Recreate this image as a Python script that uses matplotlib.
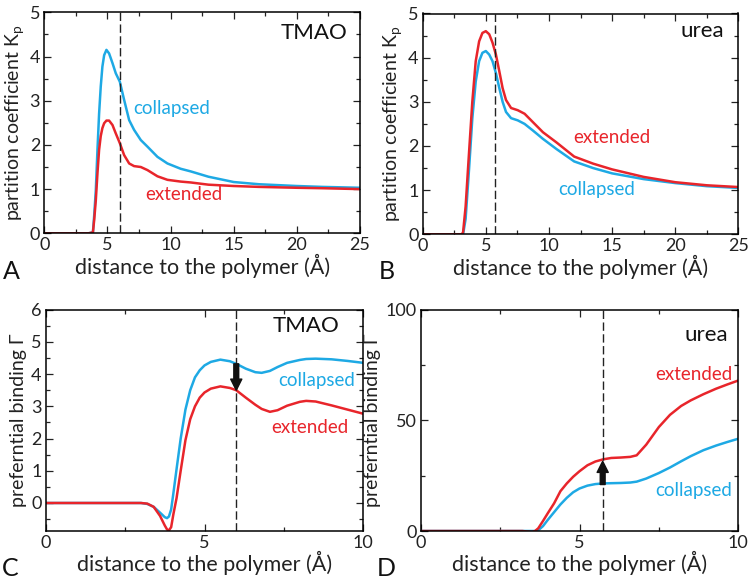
import matplotlib
matplotlib.use("Agg")
import matplotlib.pyplot as plt
from matplotlib.ticker import MultipleLocator

plt.rcParams['font.family'] = ['Lato', 'DejaVu Sans']

BLUE = '#1EA9E4'
RED = '#E8252B'

# ---- Panel A: partition coefficient, TMAO ----
A_x = [0, 3.5, 3.85, 3.95, 4.08, 4.21, 4.34, 4.47, 4.6, 4.74, 4.92, 5.13, 5.4, 5.66, 5.98,
       6.32, 6.72, 7.11, 7.64, 8.17, 8.96, 9.75, 10.8, 11.6, 13, 15, 17, 20, 22, 25]
A_collapsed = [0, 0, 0.02, 0.4, 0.98, 1.89, 2.71, 3.32, 3.77, 4.03, 4.15, 4.07, 3.85, 3.62, 3.43,
               3.02, 2.56, 2.34, 2.11, 1.96, 1.73, 1.58, 1.46, 1.40, 1.28, 1.16, 1.11, 1.07, 1.05, 1.03]
A_extended = [0, 0, 0.02, 0.3, 0.75, 1.36, 1.89, 2.2, 2.38, 2.49, 2.55, 2.55, 2.45, 2.26, 2.04,
              1.77, 1.58, 1.52, 1.5, 1.43, 1.29, 1.21, 1.17, 1.15, 1.1, 1.07, 1.05, 1.03, 1.02, 1.0]

# ---- Panel B: partition coefficient, urea ----
B_x = [0, 3.1, 3.2, 3.4, 3.67, 3.93, 4.2, 4.47, 4.73, 5.0, 5.27, 5.53, 5.8, 6.07, 6.33, 6.6,
       7.0, 7.53, 8.07, 8.73, 9.53, 10.6, 12, 13.5, 15, 17.5, 20, 22.5, 25]
B_extended = [0, 0, 0.05, 0.63, 1.85, 3.0, 3.92, 4.37, 4.56, 4.6, 4.53, 4.34, 4.07, 3.69, 3.31, 3.04,
              2.86, 2.81, 2.73, 2.54, 2.31, 2.08, 1.76, 1.6, 1.47, 1.3, 1.18, 1.11, 1.07]
B_collapsed = [0, 0, 0, 0.35, 1.47, 2.62, 3.46, 3.92, 4.11, 4.15, 4.07, 3.92, 3.65, 3.31, 3.0, 2.77,
               2.63, 2.58, 2.5, 2.35, 2.16, 1.93, 1.65, 1.5, 1.38, 1.25, 1.16, 1.09, 1.05]

# ---- Panel C: preferential binding, TMAO ----
C_x = [0, 3.0, 3.2, 3.4, 3.6, 3.75, 3.82, 3.88, 3.95, 4.02, 4.12, 4.25, 4.4, 4.55, 4.7, 4.85,
       5.0, 5.2, 5.5, 5.8, 6.0, 6.3, 6.6, 6.8, 7.06, 7.3, 7.6, 8.0, 8.2, 8.5, 9.0, 9.5, 10]
C_collapsed = [0, 0, -0.03, -0.12, -0.3, -0.44, -0.47, -0.42, -0.2, 0.3, 1.05, 2.0, 2.9, 3.5, 3.9, 4.12,
               4.27, 4.38, 4.45, 4.4, 4.32, 4.17, 4.06, 4.04, 4.1, 4.22, 4.35, 4.44, 4.47, 4.48, 4.46, 4.41, 4.35]
C_extended = [0, 0, -0.02, -0.12, -0.4, -0.7, -0.82, -0.85, -0.75, -0.35, 0.15, 1.0, 1.95, 2.6, 3.0, 3.27,
              3.43, 3.55, 3.62, 3.57, 3.5, 3.27, 3.05, 2.92, 2.83, 2.88, 3.02, 3.14, 3.17, 3.15, 3.03, 2.9, 2.77]

# ---- Panel D: preferential binding, urea ----
D_x = [0, 3.2, 3.4, 3.5, 3.6, 3.7, 3.85, 4.0, 4.2, 4.4, 4.6, 4.8, 5.0, 5.25, 5.5, 5.75, 6.0, 6.3,
       6.6, 6.8, 7.1, 7.5, 7.85, 8.2, 8.5, 8.9, 9.3, 9.65, 10]
D_extended = [0, 0, -0.3, -0.5, 0, 1.2, 4.5, 8, 12.5, 18, 21.5, 24.5, 27, 29.7, 31.4, 32.4, 33, 33.2,
              33.5, 34.2, 39, 47, 52.5, 56.5, 59, 61.8, 64.3, 66.2, 68]
D_collapsed = [0, 0, 0, 0, 0, 0.3, 2.2, 5, 8.5, 12, 15, 17.5, 19.2, 20.5, 21.2, 21.5, 21.6, 21.7,
               21.9, 22.3, 23.7, 26.2, 28.7, 31.5, 33.8, 36.5, 38.6, 40.2, 41.7]

XLABEL = 'distance to the polymer (Å)'
W, H = 750, 587

fig = plt.figure(figsize=(7.5, 5.87), dpi=100)

def make_ax(l, r, t, b):
    return fig.add_axes([l / W, 1 - b / H, (r - l) / W, (b - t) / H])

axA = make_ax(44.3, 360, 12.3, 233.3)
axB = make_ax(422.7, 738.3, 13.5, 234.3)
axC = make_ax(45.7, 363.3, 309.7, 530.7)
axD = make_ax(420.7, 738.3, 309.7, 531.0)

LW = 1.8
TXT = '#222222'
for ax in (axA, axB, axC, axD):
    for s in ax.spines.values():
        s.set_linewidth(1.1)
    ax.tick_params(which='both', direction='in', top=True, right=True, width=0.9,
                   labelsize=13, colors=TXT, pad=3)
    ax.tick_params(which='major', length=5)
    ax.tick_params(which='minor', length=3)
    ax.set_xlabel(XLABEL, fontsize=15.5, color=TXT, labelpad=0)

ARROW = dict(arrowstyle='simple,head_width=0.8,head_length=0.8,tail_width=0.35',
             color='#111111', mutation_scale=10, shrinkA=0, shrinkB=0)

# A
axA.plot(A_x, A_collapsed, color=BLUE, lw=LW)
axA.plot(A_x, A_extended, color=RED, lw=LW)
axA.axvline(6.0, color=TXT, lw=1.0, ls=(0, (6, 2.5)))
axA.set_xlim(0, 25); axA.set_ylim(0, 5)
axA.xaxis.set_major_locator(MultipleLocator(5)); axA.xaxis.set_minor_locator(MultipleLocator(2.5))
axA.yaxis.set_major_locator(MultipleLocator(1)); axA.yaxis.set_minor_locator(MultipleLocator(0.5))
axA.set_ylabel('partition coefficient K$_\\mathregular{p}$', fontsize=14, color=TXT, labelpad=2)
axA.text(24.0, 4.53, 'TMAO', fontsize=16, ha='right', va='center', color='#111111')
axA.text(7.02, 2.83, 'collapsed', fontsize=13.5, ha='left', va='center', color=BLUE)
axA.text(7.97, 0.87, 'extended', fontsize=13.5, ha='left', va='center', color=RED)

# B
axB.plot(B_x, B_collapsed, color=BLUE, lw=LW)
axB.plot(B_x, B_extended, color=RED, lw=LW)
axB.axvline(5.72, color=TXT, lw=1.0, ls=(0, (6, 2.5)))
axB.set_xlim(0, 25); axB.set_ylim(0, 5)
axB.xaxis.set_major_locator(MultipleLocator(5)); axB.xaxis.set_minor_locator(MultipleLocator(2.5))
axB.yaxis.set_major_locator(MultipleLocator(1)); axB.yaxis.set_minor_locator(MultipleLocator(0.5))
axB.set_ylabel('partition coefficient K$_\\mathregular{p}$', fontsize=14, color=TXT, labelpad=2)
axB.text(23.9, 4.6, 'urea', fontsize=16, ha='right', va='center', color='#111111')
axB.text(11.9, 2.2, 'extended', fontsize=13.5, ha='left', va='center', color=RED)
axB.text(10.7, 1.01, 'collapsed', fontsize=13.5, ha='left', va='center', color=BLUE)

# C
axC.plot(C_x, C_collapsed, color=BLUE, lw=LW)
axC.plot(C_x, C_extended, color=RED, lw=LW)
axC.axvline(6.0, color=TXT, lw=1.0, ls=(0, (6, 2.5)))
axC.set_xlim(0, 10); axC.set_ylim(-0.86, 6)
axC.xaxis.set_major_locator(MultipleLocator(5)); axC.xaxis.set_minor_locator(MultipleLocator(2.5))
axC.yaxis.set_major_locator(MultipleLocator(1)); axC.yaxis.set_minor_locator(MultipleLocator(0.5))
axC.set_ylabel('preferntial binding Γ', fontsize=14, color=TXT, labelpad=3)
axC.text(9.26, 5.5, 'TMAO', fontsize=16, ha='right', va='center', color='#111111')
axC.text(7.31, 3.79, 'collapsed', fontsize=13.5, ha='left', va='center', color=BLUE)
axC.text(7.09, 2.33, 'extended', fontsize=13.5, ha='left', va='center', color=RED)
axC.annotate('', xy=(6.0, 3.5), xytext=(6.0, 4.32), arrowprops=ARROW)

# D
axD.plot(D_x, D_collapsed, color=BLUE, lw=LW)
axD.plot(D_x, D_extended, color=RED, lw=LW)
axD.axvline(5.73, color=TXT, lw=1.0, ls=(0, (6, 2.5)))
axD.set_xlim(0, 10); axD.set_ylim(0, 100)
axD.xaxis.set_major_locator(MultipleLocator(5)); axD.xaxis.set_minor_locator(MultipleLocator(2.5))
axD.yaxis.set_major_locator(MultipleLocator(50)); axD.yaxis.set_minor_locator(MultipleLocator(25))
axD.set_ylabel('preferntial binding Γ', fontsize=14, color=TXT, labelpad=3)
axD.text(9.67, 88.5, 'urea', fontsize=16, ha='right', va='center', color='#111111')
axD.text(7.37, 70.9, 'extended', fontsize=13.5, ha='left', va='center', color=RED)
axD.text(7.37, 18.4, 'collapsed', fontsize=13.5, ha='left', va='center', color=BLUE)
axD.annotate('', xy=(5.73, 31.5), xytext=(5.73, 21.0), arrowprops=ARROW)

# panel letters
for lab, (px, py) in {'A': (11.7, 271.7), 'B': (386.7, 271.7),
                      'C': (10.0, 568.0), 'D': (386.7, 568.5)}.items():
    fig.text(px / W, 1 - py / H, lab, fontsize=18, ha='center', va='center', color='#111111')

fig.savefig('out.png', dpi=100)
